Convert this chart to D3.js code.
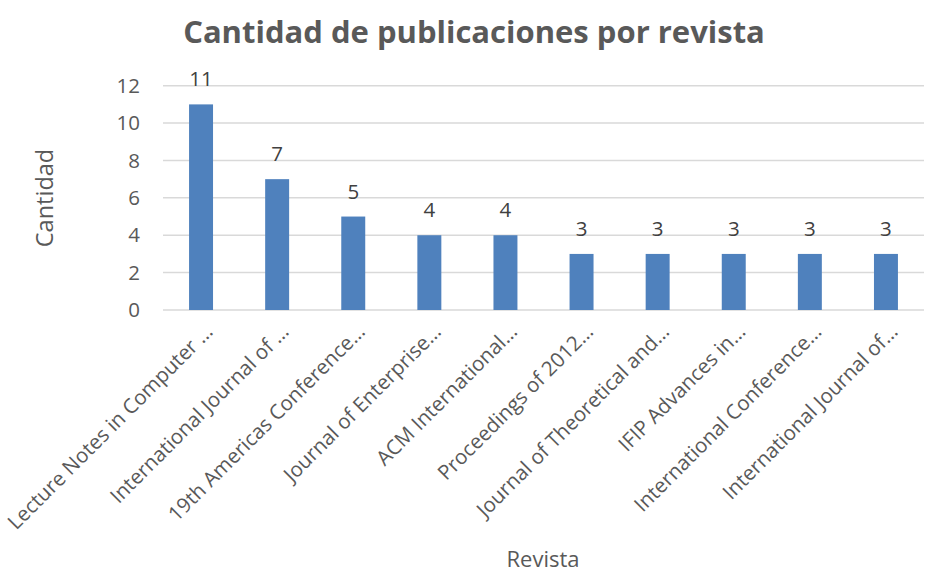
<!DOCTYPE html>
<html><head><meta charset="utf-8">
<script src="https://cdn.jsdelivr.net/npm/d3@7"></script>
<style>body{margin:0;background:#fff}</style>
</head><body><svg id="c" width="931" height="581"></svg>
<script>
const categories = ["Lecture Notes in Computer …","International Journal of …","19th Americas Conference…","Journal of Enterprise…","ACM International…","Proceedings of 2012…","Journal of Theoretical and…","IFIP Advances in…","International Conference…","International Journal of…"];
const values = [11,7,5,4,4,3,3,3,3,3];
const yTicks = [0,2,4,6,8,10,12];

const svg = d3.select("#c");
const font = "'Open Sans', sans-serif";
const gray = "#595959";
const x = d3.scaleBand().domain(categories).range([163,924]).paddingInner(0.685).paddingOuter(0.3425);
const y = d3.scaleLinear().domain([0,12]).range([310,85.7]);

svg.append("g").selectAll("line").data(yTicks).join("line")
  .attr("x1",163).attr("x2",924).attr("y1",d=>y(d)).attr("y2",d=>y(d))
  .attr("stroke","#d9d9d9").attr("stroke-width",1.5);

const yAxis = svg.append("g").attr("transform","translate(163,0)")
  .call(d3.axisLeft(y).tickValues(yTicks).tickSize(0).tickPadding(23));
yAxis.select(".domain").remove();
yAxis.selectAll("text").attr("font-family",font).attr("font-size",20.5).attr("fill",gray);

svg.append("g").selectAll("rect").data(values).join("rect")
  .attr("x",(d,i)=>x(categories[i])).attr("width",x.bandwidth())
  .attr("y",d=>y(d)).attr("height",d=>y(0)-y(d)).attr("fill","#4f81bd");

svg.append("g").selectAll("text").data(values).join("text")
  .attr("x",(d,i)=>x(categories[i])+x.bandwidth()/2).attr("y",d=>y(d)-18)
  .attr("text-anchor","middle").attr("font-family",font).attr("font-size",20.5).attr("fill","#404040")
  .text(d=>d);

const xAxis = svg.append("g").attr("transform","translate(0,310)")
  .call(d3.axisBottom(x).tickSize(0).tickPadding(0));
xAxis.select(".domain").remove();
xAxis.selectAll("text").attr("font-family",font).attr("font-size",20.5).attr("fill",gray)
  .attr("text-anchor","end").attr("dy",0).attr("y",0)
  .attr("transform","translate(13,23) rotate(-45)");

svg.append("text").attr("x",474).attr("y",43).attr("text-anchor","middle")
  .attr("font-family",font).attr("font-weight","bold").attr("font-size",31).attr("fill",gray)
  .text("Cantidad de publicaciones por revista");
svg.append("text").attr("transform","translate(53,198) rotate(-90)").attr("text-anchor","middle")
  .attr("font-family",font).attr("font-size",23.5).attr("fill",gray).text("Cantidad");
svg.append("text").attr("x",543).attr("y",567).attr("text-anchor","middle")
  .attr("font-family",font).attr("font-size",22).attr("fill",gray).text("Revista");
</script></body></html>
